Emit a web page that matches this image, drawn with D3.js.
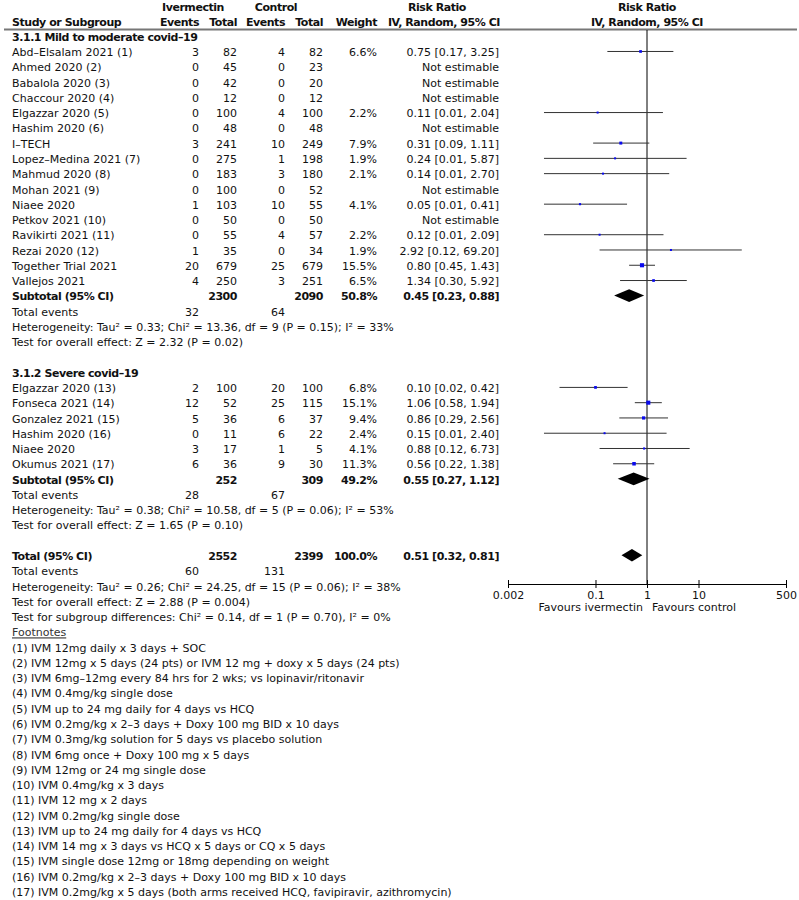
<!DOCTYPE html>
<html><head><meta charset="utf-8">
<script src="https://cdn.jsdelivr.net/npm/d3@7"></script>
<style>body{margin:0;background:#fff}text{font-family:"DejaVu Sans",sans-serif;font-size:11px;fill:#111}text.b{font-weight:bold;letter-spacing:-0.45px}</style>
</head><body><svg id="c" width="799" height="900"></svg>
<script>
// ---------- data ----------
// [study, ivermectin events, ivermectin total, control events, control total, weight %, RR, lower, upper]
const mildStudies = [
  ["Abd–Elsalam 2021 (1)", 3, 82, 4, 82, 6.6, 0.75, 0.17, 3.25],
  ["Ahmed 2020 (2)", 0, 45, 0, 23, null, null, null, null],
  ["Babalola 2020 (3)", 0, 42, 0, 20, null, null, null, null],
  ["Chaccour 2020 (4)", 0, 12, 0, 12, null, null, null, null],
  ["Elgazzar 2020 (5)", 0, 100, 4, 100, 2.2, 0.11, 0.01, 2.04],
  ["Hashim 2020 (6)", 0, 48, 0, 48, null, null, null, null],
  ["I–TECH", 3, 241, 10, 249, 7.9, 0.31, 0.09, 1.11],
  ["Lopez–Medina 2021 (7)", 0, 275, 1, 198, 1.9, 0.24, 0.01, 5.87],
  ["Mahmud 2020 (8)", 0, 183, 3, 180, 2.1, 0.14, 0.01, 2.70],
  ["Mohan 2021 (9)", 0, 100, 0, 52, null, null, null, null],
  ["Niaee 2020", 1, 103, 10, 55, 4.1, 0.05, 0.01, 0.41],
  ["Petkov 2021 (10)", 0, 50, 0, 50, null, null, null, null],
  ["Ravikirti 2021 (11)", 0, 55, 4, 57, 2.2, 0.12, 0.01, 2.09],
  ["Rezai 2020 (12)", 1, 35, 0, 34, 1.9, 2.92, 0.12, 69.20],
  ["Together Trial 2021", 20, 679, 25, 679, 15.5, 0.80, 0.45, 1.43],
  ["Vallejos 2021", 4, 250, 3, 251, 6.5, 1.34, 0.30, 5.92]
];
const severeStudies = [
  ["Elgazzar 2020 (13)", 2, 100, 20, 100, 6.8, 0.10, 0.02, 0.42],
  ["Fonseca 2021 (14)", 12, 52, 25, 115, 15.1, 1.06, 0.58, 1.94],
  ["Gonzalez 2021 (15)", 5, 36, 6, 37, 9.4, 0.86, 0.29, 2.56],
  ["Hashim 2020 (16)", 0, 11, 6, 22, 2.4, 0.15, 0.01, 2.40],
  ["Niaee 2020", 3, 17, 1, 5, 4.1, 0.88, 0.12, 6.73],
  ["Okumus 2021 (17)", 6, 36, 9, 30, 11.3, 0.56, 0.22, 1.38]
];
// [label, ivermectin total, control total, weight %, RR, lower, upper]
const mildSubtotal = ["Subtotal (95% CI)", 2300, 2090, 50.8, 0.45, 0.23, 0.88];
const severeSubtotal = ["Subtotal (95% CI)", 252, 309, 49.2, 0.55, 0.27, 1.12];
const overallTotal = ["Total (95% CI)", 2552, 2399, 100.0, 0.51, 0.32, 0.81];
// total events [ivermectin, control]
const mildEvents = [32, 64];
const severeEvents = [28, 67];
const overallEvents = [60, 131];
const groupTitles = ["3.1.1 Mild to moderate covid–19", "3.1.2 Severe covid–19"];
const mildTests = [
  "Heterogeneity: Tau² = 0.33; Chi² = 13.36, df = 9 (P = 0.15); I² = 33%",
  "Test for overall effect: Z = 2.32 (P = 0.02)"
];
const severeTests = [
  "Heterogeneity: Tau² = 0.38; Chi² = 10.58, df = 5 (P = 0.06); I² = 53%",
  "Test for overall effect: Z = 1.65 (P = 0.10)"
];
const overallTests = [
  "Heterogeneity: Tau² = 0.26; Chi² = 24.25, df = 15 (P = 0.06); I² = 38%",
  "Test for overall effect: Z = 2.88 (P = 0.004)",
  "Test for subgroup differences: Chi² = 0.14, df = 1 (P = 0.70), I² = 0%"
];
const footnotes = [
  "(1) IVM 12mg daily x 3 days + SOC",
  "(2) IVM 12mg x 5 days (24 pts) or IVM 12 mg + doxy x 5 days (24 pts)",
  "(3) IVM 6mg–12mg every 84 hrs for 2 wks; vs lopinavir/ritonavir",
  "(4) IVM 0.4mg/kg single dose",
  "(5) IVM up to 24 mg daily for 4 days vs HCQ",
  "(6) IVM 0.2mg/kg x 2–3 days + Doxy 100 mg BID x 10 days",
  "(7) IVM 0.3mg/kg solution for 5 days vs placebo solution",
  "(8) IVM 6mg once + Doxy 100 mg x 5 days",
  "(9) IVM 12mg or 24 mg single dose",
  "(10) IVM 0.4mg/kg x 3 days",
  "(11) IVM 12 mg x 2 days",
  "(12) IVM 0.2mg/kg single dose",
  "(13) IVM up to 24 mg daily for 4 days vs HCQ",
  "(14) IVM 14 mg x 3 days vs HCQ x 5 days or CQ x 5 days",
  "(15) IVM single dose 12mg or 18mg depending on weight",
  "(16) IVM 0.2mg/kg x 2–3 days + Doxy 100 mg BID x 10 days",
  "(17) IVM 0.2mg/kg x 5 days (both arms received HCQ, favipiravir, azithromycin)"
];
const axisTicks = [0.002, 0.1, 1, 10, 500];
const axisTickLabels = ["0.002", "0.1", "1", "10", "500"];
const favourLabels = ["Favours ivermectin", "Favours control"];

// ---------- layout ----------
const svg = d3.select("#c");
const col = {name: 12, ivE: 199, ivT: 237, cE: 285, cT: 323, w: 377, eff: 499};
const rowY = n => 37 + 15.27 * n;
const x = d3.scaleLog().domain([0.002, 500]).range([508, 786]);
const axisY = 584;
const f2 = d3.format(".2f"), f1 = d3.format(".1f");

function txt(xp, yp, s, anchor = "start", bold = false) {
  return svg.append("text").attr("x", xp).attr("y", yp).attr("dy", "0.35em")
    .attr("text-anchor", anchor).attr("class", bold ? "b" : null).text(s);
}

// header
txt(193, 7, "Ivermectin", "middle", true);
txt(276, 7, "Control", "middle", true);
txt(437, 7, "Risk Ratio", "middle", true);
txt(647, 7, "Risk Ratio", "middle", true);
txt(col.name, 21.7, "Study or Subgroup", "start", true);
txt(col.ivE, 21.7, "Events", "end", true);
txt(col.ivT, 21.7, "Total", "end", true);
txt(col.cE, 21.7, "Events", "end", true);
txt(col.cT, 21.7, "Total", "end", true);
txt(col.w, 21.7, "Weight", "end", true);
txt(500, 21.7, "IV, Random, 95% CI", "end", true);
txt(647, 21.7, "IV, Random, 95% CI", "middle", true);
svg.append("line").attr("x1", 4).attr("x2", 797).attr("y1", 29.5).attr("y2", 29.5)
  .attr("stroke", "#777").attr("stroke-width", 2);

// line of no effect
svg.append("line").attr("x1", x(1)).attr("x2", x(1)).attr("y1", 30).attr("y2", axisY)
  .attr("stroke", "#000").attr("stroke-width", 1);

const effText = (rr, lo, hi) => `${f2(rr)} [${f2(lo)}, ${f2(hi)}]`;

function drawStudies(studies, startRow) {
  studies.forEach((s, i) => {
    const y = rowY(startRow + i);
    const [name, e1, n1, e2, n2, w, rr, lo, hi] = s;
    txt(col.name, y, name);
    txt(col.ivE, y, e1, "end");
    txt(col.ivT, y, n1, "end");
    txt(col.cE, y, e2, "end");
    txt(col.cT, y, n2, "end");
    if (w == null) {
      txt(col.eff, y, "Not estimable", "end");
      return;
    }
    txt(col.w, y, f1(w) + "%", "end");
    txt(col.eff, y, effText(rr, lo, hi), "end");
    const my = y - 0.8;
    svg.append("line").attr("x1", x(lo)).attr("x2", x(hi)).attr("y1", my).attr("y2", my)
      .attr("stroke", "#333").attr("stroke-width", 1);
    const side = Math.max(2, 1.05 * Math.sqrt(w));
    svg.append("rect").attr("x", x(rr) - side / 2).attr("y", my - side / 2)
      .attr("width", side).attr("height", side).attr("fill", "#0a0aee");
  });
}

function drawTotal(t, row) {
  const y = rowY(row);
  const [label, n1, n2, w, rr, lo, hi] = t;
  txt(col.name, y, label, "start", true);
  txt(col.ivT, y, n1, "end", true);
  txt(col.cT, y, n2, "end", true);
  txt(col.w, y, f1(w) + "%", "end", true);
  txt(col.eff, y, effText(rr, lo, hi), "end", true);
  const my = y - 1;
  svg.append("path")
    .attr("d", `M${x(lo)},${my} L${x(rr)},${my - 6.3} L${x(hi)},${my} L${x(rr)},${my + 6.3} Z`)
    .attr("fill", "#000");
}

function drawEvents(ev, row) {
  const y = rowY(row);
  txt(col.name, y, "Total events");
  txt(col.ivE, y, ev[0], "end");
  txt(col.cE, y, ev[1], "end");
}
function drawTests(lines, row) {
  lines.forEach((l, i) => txt(col.name, rowY(row + i), l));
}

// group 1
txt(col.name, rowY(0), groupTitles[0], "start", true);
drawStudies(mildStudies, 1);
drawTotal(mildSubtotal, 17);
drawEvents(mildEvents, 18);
drawTests(mildTests, 19);
// group 2
txt(col.name, rowY(22), groupTitles[1], "start", true);
drawStudies(severeStudies, 23);
drawTotal(severeSubtotal, 29);
drawEvents(severeEvents, 30);
drawTests(severeTests, 31);
// overall
drawTotal(overallTotal, 34);
drawEvents(overallEvents, 35);
drawTests(overallTests, 36);

// footnotes
txt(col.name, rowY(39), "Footnotes").attr("text-decoration", "underline").style("fill", "#333");
footnotes.forEach((f, i) => txt(col.name, rowY(40 + i), f));

// axis
const axis = d3.axisBottom(x).tickValues(axisTicks)
  .tickFormat((d, i) => axisTickLabels[i]).tickSize(4).tickSizeOuter(0);
const ag = svg.append("g").attr("transform", `translate(0,${axisY})`).call(axis);
ag.select(".domain").attr("stroke", "#000");
ag.selectAll(".tick line").attr("y1", -4).attr("y2", 4).attr("stroke", "#000");
ag.selectAll(".tick text").attr("font-family", "DejaVu Sans").attr("font-size", 11)
  .attr("fill", "#111").attr("y", 7);
txt(x(1) - 4, 607, favourLabels[0], "end");
txt(x(1) + 5, 607, favourLabels[1], "start");
</script></body></html>
